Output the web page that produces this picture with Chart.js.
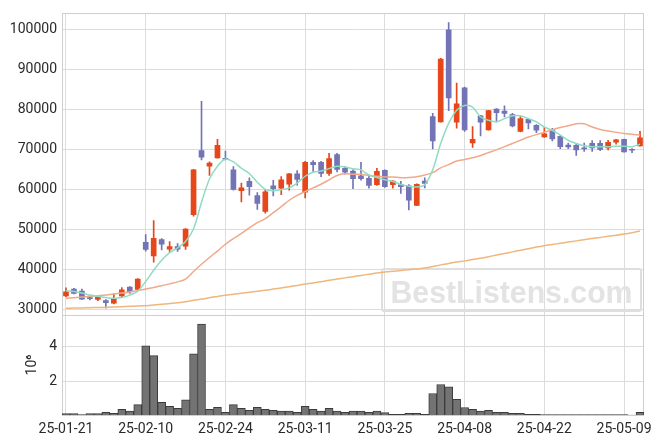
<!DOCTYPE html>
<html>
<head>
<meta charset="utf-8">
<script src="https://cdn.jsdelivr.net/npm/chart.js@4.4.1/dist/chart.umd.min.js"></script>
<style>
  html, body { margin: 0; padding: 0; background: #fff; }
  #wrap { width: 663px; height: 444px; }
</style>
</head>
<body>
<div id="wrap"><canvas id="myChart" width="663" height="444"></canvas></div>
<script>
// trading days (yy-mm-dd)
const dates = [
  '25-01-21','25-01-22','25-01-23','25-01-24','25-01-31','25-02-03','25-02-04','25-02-05','25-02-06','25-02-07',
  '25-02-10','25-02-11','25-02-12','25-02-13','25-02-14','25-02-17','25-02-18','25-02-19','25-02-20','25-02-21',
  '25-02-24','25-02-25','25-02-26','25-02-27','25-02-28','25-03-04','25-03-05','25-03-06','25-03-07','25-03-10',
  '25-03-11','25-03-12','25-03-13','25-03-14','25-03-17','25-03-18','25-03-19','25-03-20','25-03-21','25-03-24',
  '25-03-25','25-03-26','25-03-27','25-03-28','25-03-31','25-04-01','25-04-02','25-04-03','25-04-04','25-04-07',
  '25-04-08','25-04-09','25-04-10','25-04-11','25-04-14','25-04-15','25-04-16','25-04-17','25-04-18','25-04-21',
  '25-04-22','25-04-23','25-04-24','25-04-25','25-04-28','25-04-29','25-04-30','25-05-02','25-05-07','25-05-08',
  '25-05-09','25-05-12','25-05-13'
];

const openP = [
  33400,35100,34600,32900,32500,32200,31600,33400,35600,35000,
  46800,43400,47500,45100,45700,45800,53700,69700,65800,67900,
  67700,64900,59700,62000,58500,54500,60900,60300,61300,63900,
  59300,66800,66800,64000,68700,65300,64600,63400,62800,61200,
  64800,61200,61200,60900,56000,62100,78200,76900,99900,76800,
  85400,71600,78400,74900,80100,79600,78700,74500,77500,76000,
  73100,75000,73300,71100,71000,70400,71500,71500,70400,71800,
  72500,70000,70900
];
const highP = [
  35400,35300,35100,33400,33400,32500,33900,35500,35700,37700,
  48700,52200,47700,47000,46500,50200,65000,82000,66900,72500,
  69600,65700,61600,62900,59200,60000,62300,63200,64000,64700,
  67000,67200,67000,69000,69000,65700,64900,66800,63600,65300,
  64900,62200,62000,61200,61400,62900,79000,92800,101700,86600,
  85600,75700,78500,79800,80200,80900,79000,78200,77800,76200,
  75500,75300,73400,71600,71300,71600,72200,72200,72300,72500,
  72600,70200,74500
];
const lowP = [
  33200,33900,32500,32400,32200,30300,31400,33200,34000,34800,
  44600,41800,44900,44300,44500,45000,53300,67400,63500,67800,
  67400,59800,56900,58600,55000,54100,58400,58700,59800,61100,
  57900,64500,63200,63500,64400,63800,60200,62300,60300,61000,
  60500,60300,59000,54900,56000,60400,70100,76800,79700,75300,
  74500,70500,73400,74800,76900,78100,75600,74400,75100,74200,
  73000,72100,70200,70200,68500,69500,69500,69700,69900,71300,
  69300,69200,70800
];
const closeP = [
  34400,34000,32600,32700,33100,31700,32600,34900,34400,37600,
  45000,47800,46300,45700,45100,50100,64900,68100,66600,71000,
  67500,60000,60400,60700,56500,59400,60200,62400,63900,62500,
  66800,66200,64000,67700,65000,64300,62700,62700,61000,64500,
  60700,62100,60700,57300,61300,61500,72100,92600,82900,81400,
  74900,72500,76800,79700,79200,79000,75900,77700,76600,74800,
  73900,72600,70700,70600,69900,70100,70400,70000,71800,72400,
  69400,69800,72900
];

// volume, millions of shares
const volume = [
  0.15,0.15,0.10,0.15,0.15,0.23,0.17,0.40,0.29,0.67,
  4.06,3.49,0.80,0.57,0.46,0.95,3.60,5.31,0.40,0.51,
  0.23,0.67,0.46,0.34,0.51,0.40,0.34,0.29,0.29,0.23,
  0.57,0.40,0.29,0.46,0.29,0.23,0.29,0.29,0.23,0.29,
  0.21,0.11,0.11,0.17,0.17,0.11,1.31,1.83,1.70,0.97,
  0.50,0.40,0.29,0.34,0.23,0.23,0.17,0.17,0.11,0.11,
  0.10,0.09,0.09,0.09,0.09,0.09,0.09,0.09,0.09,0.09,
  0.09,0.07,0.23
];

// moving averages
const ma5 = [
  34700,34500,34100,33600,33300,33000,32800,33000,33600,34600,
  37000,39800,42300,44200,45400,47000,50200,56800,62600,65800,
  67600,66900,65300,64000,61800,60000,59700,59900,60400,61600,
  63300,64300,64600,65200,65800,65600,65200,64900,63600,63000,
  62400,62000,61200,60800,60600,61200,64900,71500,76500,79800,
  81000,80600,78100,77300,76900,77700,78400,78400,77700,76900,
  75600,74800,73600,72300,71500,70900,70700,70700,70700,70800,
  70800,70700,71300
];
const ma20 = [
  32800,32950,33100,33300,33450,33650,33850,34100,34400,34750,
  35100,35500,35950,36400,36900,37600,39500,41300,43000,44600,
  46300,47700,49000,50400,51700,52700,54200,55700,57300,58500,
  59500,60400,61300,62400,63500,63900,63800,63800,63500,63300,
  63100,63100,62950,63000,63200,63600,64200,65400,66200,67100,
  67500,67900,68500,69200,69900,70700,71500,72300,73100,73700,
  74300,74900,75500,75900,76400,76400,75600,75000,74600,74300,
  74000,73800,73600
];
const ma120 = [
  30300,30350,30400,30450,30500,30550,30600,30700,30800,30900,
  30950,31100,31300,31500,31700,31950,32300,32600,32950,33250,
  33550,33800,34050,34300,34550,34800,35100,35400,35700,36000,
  36350,36650,36950,37300,37600,37900,38200,38500,38800,39100,
  39350,39550,39750,39950,40150,40350,40750,41150,41500,41850,
  42150,42500,42800,43200,43600,44000,44400,44800,45200,45600,
  45950,46250,46550,46850,47150,47450,47750,48000,48300,48550,
  48850,49200,49600
];

const priceTicks = [30000, 40000, 50000, 60000, 70000, 80000, 90000, 100000];
const volumeTicks = [2, 4];
const labelEvery = 10;

const upColor = '#e5461a';
const downColor = '#7274b6';
const gridColor = '#dcdcdc';
const colorOf = i => closeP[i] >= openP[i] ? upColor : downColor;

Chart.defaults.font.family = 'Roboto';
Chart.defaults.font.size = 14;
Chart.defaults.color = '#2a2a2a';

// frame round the plot, line between the panels, and the site stamp
const decor = {
  id: 'decor',
  beforeDatasetsDraw(chart) {
    const { ctx, chartArea: a } = chart;
    const yp = chart.scales.yp;
    ctx.save();
    ctx.strokeStyle = '#cfcfcf';
    ctx.lineWidth = 1;
    ctx.strokeRect(Math.round(a.left) + 0.5, Math.round(a.top) + 0.5,
      Math.round(a.right - a.left) - 1, Math.round(a.bottom - a.top));
    ctx.beginPath();
    ctx.moveTo(a.left, Math.round(yp.bottom) + 0.5);
    ctx.lineTo(a.right, Math.round(yp.bottom) + 0.5);
    ctx.stroke();

    const bw = 259, bh = 42;
    const bx = a.right - 262, by = yp.bottom - 46;
    ctx.strokeStyle = '#dedede';
    ctx.lineWidth = 2;
    ctx.beginPath();
    ctx.roundRect(bx, by, bw, bh, 2);
    ctx.stroke();
    ctx.fillStyle = '#e3e3e3';
    ctx.font = 'bold 32px "Liberation Sans"';
    ctx.textAlign = 'center';
    ctx.textBaseline = 'alphabetic';
    const txt = 'BestListens.com';
    const w = ctx.measureText(txt).width;
    ctx.translate(bx + bw / 2, by + 34);
    ctx.scale(242 / w, 1);
    ctx.fillText(txt, 0, 0);
    ctx.restore();
  }
};

new Chart(document.getElementById('myChart'), {
  data: {
    labels: dates,
    datasets: [
      { type: 'line', label: 'MA5', data: ma5, yAxisID: 'yp', borderColor: '#8fdcc3',
        borderWidth: 1.5, pointRadius: 0, tension: 0.3, order: 0 },
      { type: 'line', label: 'MA20', data: ma20, yAxisID: 'yp', borderColor: '#f0a98a',
        borderWidth: 1.5, pointRadius: 0, tension: 0.3, order: 0 },
      { type: 'line', label: 'MA120', data: ma120, yAxisID: 'yp', borderColor: '#f0b67c',
        borderWidth: 1.5, pointRadius: 0, tension: 0.3, order: 0 },
      { type: 'bar', label: 'wick', data: dates.map((d, i) => [lowP[i], highP[i]]), yAxisID: 'yp',
        backgroundColor: c => colorOf(c.dataIndex), barThickness: 1, grouped: false, order: 2 },
      { type: 'bar', label: 'body', data: dates.map((d, i) => [openP[i], closeP[i]]), yAxisID: 'yp',
        backgroundColor: c => colorOf(c.dataIndex), barThickness: 5, minBarLength: 1,
        grouped: false, order: 1 },
      { type: 'bar', label: 'volume', data: volume, yAxisID: 'yv',
        backgroundColor: '#737373', borderColor: '#3c3c3c', borderWidth: 1,
        barPercentage: 1, categoryPercentage: 1, grouped: false, order: 3 }
    ]
  },
  options: {
    responsive: false,
    animation: false,
    layout: { padding: { top: 9, right: 19, left: 0, bottom: 0 } },
    plugins: { legend: { display: false }, tooltip: { enabled: false } },
    scales: {
      x: {
        offset: true,
        grid: { offset: false, color: gridColor, drawTicks: false },
        border: { display: false },
        ticks: {
          autoSkip: false, maxRotation: 0, padding: 6,
          callback: (v, i) => i % labelEvery === 0 ? dates[i] : null
        },
        afterFit: s => { s.height = 29; }
      },
      yv: {
        position: 'left', stack: 'panels', stackWeight: 101,
        min: 0.07, max: 5.83,
        grid: { color: gridColor, drawTicks: false },
        border: { color: '#cfcfcf' },
        ticks: { padding: 5, callback: v => String(v) },
        afterBuildTicks: s => { s.ticks = volumeTicks.map(v => ({ value: v })); },
        title: { display: true, text: '10⁶', font: { size: 14 }, padding: { top: 24, bottom: 0 } },
        afterFit: s => { s.width = 62; }
      },
      yp: {
        position: 'left', stack: 'panels', stackWeight: 305,
        min: 28600, max: 104000,
        grid: { color: gridColor, drawTicks: false },
        border: { color: '#cfcfcf' },
        ticks: { padding: 5, callback: v => String(v) },
        afterBuildTicks: s => { s.ticks = priceTicks.map(v => ({ value: v })); },
        afterFit: s => { s.width = 62; }
      }
    }
  },
  plugins: [decor]
});
</script>
</body>
</html>
